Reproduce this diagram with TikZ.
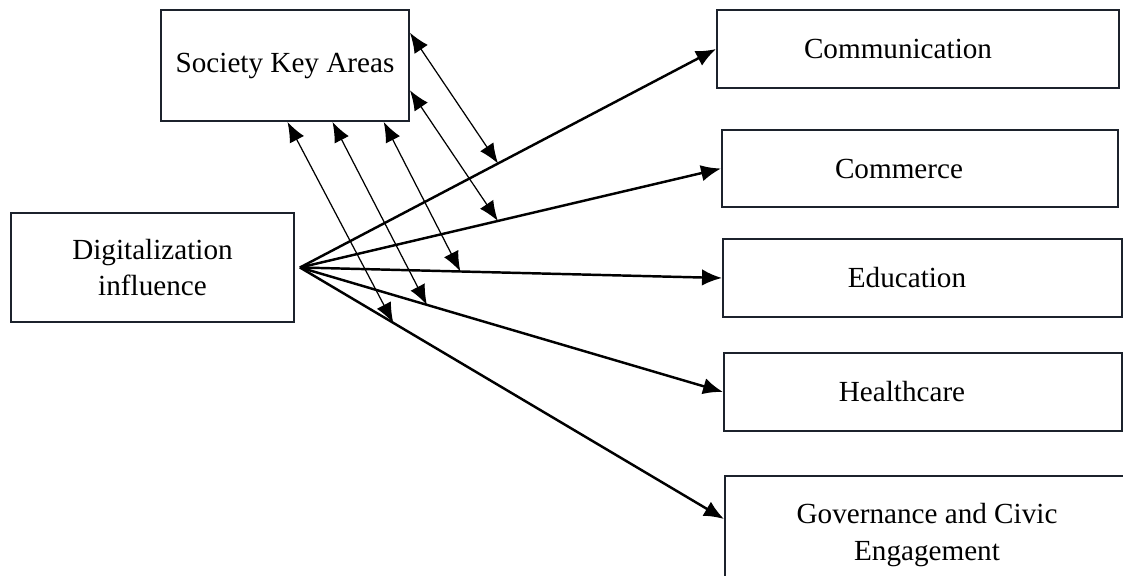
\documentclass[tikz,border=0pt]{standalone}
\usepackage{fontspec}
\setmainfont{Liberation Serif}
\usepackage{xcolor}
\usepackage{tikz}
\usetikzlibrary{shapes,arrows.meta,calc}
\definecolor{boxline}{RGB}{28,34,44}
\tikzstyle{block} = [rectangle, draw=boxline, line width=1.1pt, text centered, align=center]
\tikzstyle{area} = [rectangle, draw=boxline, line width=1.1pt, minimum height=1.56cm, minimum width=7.96cm]
\tikzstyle{line} = [draw, line width=1.4pt, -{Latex[length=4mm,width=3.3mm]}]
\tikzstyle{link} = [draw, line width=0.7pt, {Latex[length=4mm,width=3.2mm]}-{Latex[length=4mm,width=3.2mm]}]

\begin{document}
\begin{tikzpicture}[font=\fontsize{16.6}{21}\selectfont]
\useasboundingbox (0,0) rectangle (22.46,11.52);
\node [block, minimum width=4.96cm, minimum height=2.22cm] (society) at (5.70,10.21) {Society Key Areas};
\node [block, minimum width=5.66cm, minimum height=2.18cm] (digital) at (3.05,6.17) {Digitalization\\influence};
\node [area, minimum width=8.04cm, label={[xshift=-0.4cm]center:Communication}] (comm) at (18.36,10.54) {};
\node [area, minimum width=7.92cm, minimum height=1.54cm, label={[xshift=-0.42cm]center:Commerce}] (commerce) at (18.40,8.15) {};
\node [area, minimum width=7.98cm, label={[xshift=-0.31cm]center:Education}] (edu) at (18.45,5.96) {};
\node [area, label={[xshift=-0.42cm]center:Healthcare}] (health) at (18.46,3.68) {};
\node [area, minimum width=8.88cm, minimum height=2.48cm, label={[xshift=-0.4cm,yshift=0.06cm,align=center]center:Governance and Civic\\Engagement}] (gov) at (18.94,0.76) {};
\coordinate (fan) at ([xshift=0.1cm]digital.east);
\coordinate (govin) at ($(gov.north west)+(0,-0.88)$);
% digitalization fans out to every area
\path [line] (fan) -- (comm.west);
\path [line] (fan) -- (commerce.west);
\path [line] (fan) -- (edu.west);
\path [line] (fan) -- (health.west);
\path [line] (fan) -- (govin);
% key areas tied to each influence line
\path [link] ($(society.north east)!0.21!(society.south east)$) -- ($(fan)!0.476!(comm.west)$);
\path [link] ($(society.north east)!0.72!(society.south east)$) -- ($(fan)!0.47!(commerce.west)$);
\path [link] ($(society.south west)!0.895!(society.south east)$) -- ($(fan)!0.38!(edu.west)$);
\path [link] ($(society.south west)!0.69!(society.south east)$) -- ($(fan)!0.30!(health.west)$);
\path [link] ($(society.south west)!0.51!(society.south east)$) -- ($(fan)!0.22!(govin)$);
\end{tikzpicture}
\end{document}
